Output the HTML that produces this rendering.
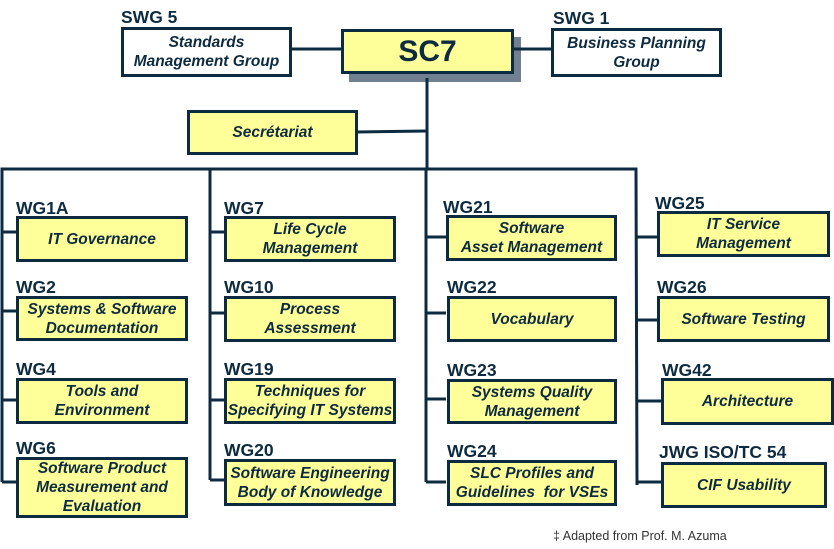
<!DOCTYPE html>
<html><head><meta charset="utf-8"><style>
body{margin:0;width:834px;height:549px;background:#fff;position:relative;overflow:hidden;font-family:"Liberation Sans",sans-serif;color:#0d2b40}
.b{position:absolute;box-sizing:border-box;border:3px solid #0d2b40;background:#ffff99;display:flex;align-items:center;justify-content:center;text-align:center;font-style:italic;font-weight:bold;font-size:15.5px;line-height:19px;white-space:nowrap}
.w{background:#fff}
.l{position:absolute;font-weight:bold;font-size:17.5px;line-height:18px}
svg{position:absolute;left:0;top:0}
</style></head><body>
<svg width="834" height="549"><g stroke="#0d2b40" stroke-width="3" fill="none">
<rect x="349" y="37" width="172" height="45" fill="#708090" stroke="none"/>
<line x1="291" y1="49" x2="341" y2="49"/><line x1="513" y1="49" x2="551" y2="49"/>
<line x1="427" y1="78" x2="427" y2="168"/><line x1="357" y1="132" x2="427" y2="131"/>
<polyline points="2,482 2,169 636,169 637,485"/>
<line x1="210" y1="169" x2="210" y2="480"/><line x1="426" y1="169" x2="426" y2="482"/>
<line x1="2" y1="232" x2="16" y2="232"/><line x1="2" y1="311" x2="16" y2="311"/><line x1="2" y1="400" x2="16" y2="400"/><line x1="2" y1="482" x2="16" y2="482"/>
<line x1="210" y1="232" x2="224" y2="232"/><line x1="210" y1="313" x2="224" y2="313"/><line x1="210" y1="400" x2="224" y2="400"/><line x1="210" y1="480" x2="224" y2="480"/>
<line x1="426" y1="237" x2="446" y2="237"/><line x1="426" y1="313" x2="446" y2="313"/><line x1="426" y1="399" x2="446" y2="399"/><line x1="426" y1="482" x2="446" y2="482"/>
<line x1="636" y1="237" x2="657" y2="237"/><line x1="636" y1="320" x2="657" y2="320"/><line x1="636" y1="401" x2="661" y2="401"/><line x1="637" y1="482" x2="661" y2="482"/>
</g></svg>
<div class="l" style="left:121px;top:8px">SWG 5</div>
<div class="b w" style="left:121px;top:27px;width:171px;height:50px">Standards<br>Management Group</div>
<div class="b" style="left:341px;top:29px;width:173px;height:45px;font-style:normal;font-size:30px">SC7</div>
<div class="l" style="left:553px;top:9px">SWG 1</div>
<div class="b w" style="left:551px;top:28px;width:171px;height:49px">Business Planning<br>Group</div>
<div class="b" style="left:187px;top:110px;width:171px;height:45px">Secrétariat</div>

<div class="l" style="left:16px;top:199px">WG1A</div>
<div class="b" style="left:16px;top:216px;width:172px;height:46px">IT Governance</div>
<div class="l" style="left:16px;top:278px">WG2</div>
<div class="b" style="left:16px;top:296px;width:172px;height:45px">Systems &amp; Software<br>Documentation</div>
<div class="l" style="left:16px;top:360px">WG4</div>
<div class="b" style="left:16px;top:378px;width:172px;height:46px">Tools and<br>Environment</div>
<div class="l" style="left:16px;top:439px">WG6</div>
<div class="b" style="left:16px;top:457px;width:172px;height:61px">Software Product<br>Measurement and<br>Evaluation</div>

<div class="l" style="left:224px;top:199px">WG7</div>
<div class="b" style="left:224px;top:216px;width:172px;height:46px">Life Cycle<br>Management</div>
<div class="l" style="left:224px;top:278px">WG10</div>
<div class="b" style="left:224px;top:296px;width:172px;height:46px">Process<br>Assessment</div>
<div class="l" style="left:224px;top:360px">WG19</div>
<div class="b" style="left:224px;top:378px;width:172px;height:46px">Techniques for<br>Specifying IT Systems</div>
<div class="l" style="left:224px;top:441px">WG20</div>
<div class="b" style="left:224px;top:459px;width:172px;height:47px">Software Engineering<br>Body of Knowledge</div>

<div class="l" style="left:443px;top:198px">WG21</div>
<div class="b" style="left:446px;top:215px;width:171px;height:46px">Software<br>Asset Management</div>
<div class="l" style="left:447px;top:278px">WG22</div>
<div class="b" style="left:447px;top:296px;width:170px;height:46px">Vocabulary</div>
<div class="l" style="left:447px;top:361px">WG23</div>
<div class="b" style="left:447px;top:379px;width:170px;height:45px">Systems Quality<br>Management</div>
<div class="l" style="left:447px;top:442px">WG24</div>
<div class="b" style="left:447px;top:460px;width:170px;height:46px">SLC Profiles and<br>Guidelines&nbsp; for VSEs</div>

<div class="l" style="left:655px;top:194px">WG25</div>
<div class="b" style="left:657px;top:211px;width:173px;height:46px">IT Service<br>Management</div>
<div class="l" style="left:657px;top:278px">WG26</div>
<div class="b" style="left:657px;top:296px;width:173px;height:46px">Software Testing</div>
<div class="l" style="left:662px;top:361px">WG42</div>
<div class="b" style="left:661px;top:378px;width:173px;height:47px">Architecture</div>
<div class="l" style="left:659px;top:443px">JWG ISO/TC 54</div>
<div class="b" style="left:661px;top:462px;width:166px;height:46px">CIF Usability</div>

<div style="position:absolute;left:553px;top:529px;font-size:12.5px;color:#333">‡ Adapted from Prof. M. Azuma</div>
</body></html>
